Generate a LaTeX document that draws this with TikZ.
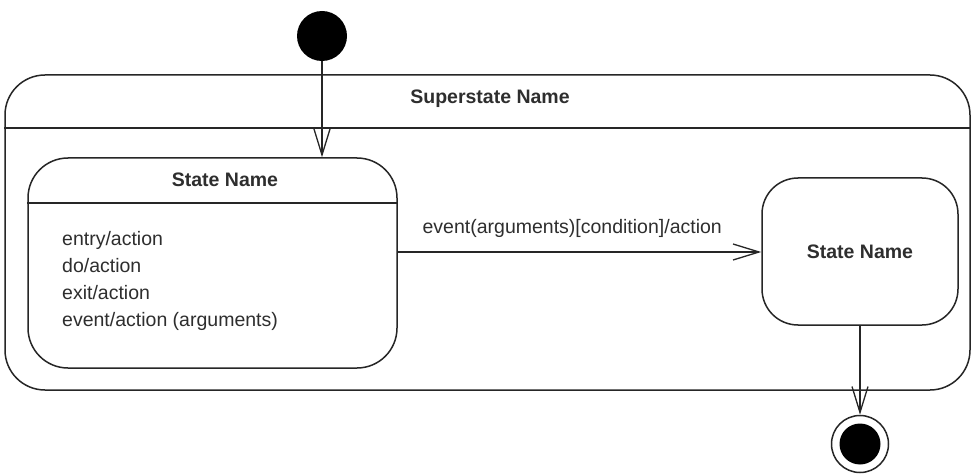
\documentclass[tikz,border=0pt]{standalone}
\usepackage{fontspec}
\setmainfont{Liberation Sans}
\usetikzlibrary{arrows.meta}
\definecolor{ink}{HTML}{262626}
\definecolor{txt}{HTML}{2E2E2E}
\begin{document}
\begin{tikzpicture}[x=1pt,y=-1pt,
  every node/.style={text=txt,font=\fontsize{19.5}{27}\selectfont},
  box/.style={draw=ink,line width=1.5pt,inner sep=0pt},
  sep/.style={draw=ink,line width=1.5pt},
  flow/.style={draw=ink,line width=1.5pt,-{Straight Barb[length=26pt,width=16pt,line width=1.3pt]}},
  title/.style={font=\fontsize{19.5}{27}\selectfont\bfseries},
  item/.style={anchor=base west,inner sep=0pt}]
\useasboundingbox (0,0) rectangle (975,476);
\fill[white] (0,0) rectangle (975,476);
% superstate
\node[box,rounded corners=40pt,minimum width=965pt,minimum height=315pt] (super) at (487.5,232.5) {};
\draw[sep] (super.west |- 0,128) -- (super.east |- 0,128);
\node[title] (supertitle) at (490,99) {Superstate Name};
% initial state
\node[circle,fill=black,inner sep=0pt,minimum size=50pt] (init) at (322,36) {};
% state 1
\node[box,rounded corners=40pt,minimum width=369pt,minimum height=210pt] (s1) at (212.5,263) {};
\draw[sep] (s1.west |- 0,203) -- (s1.east |- 0,203);
\node[title] (s1title) at (225,180) {State Name};
\node[item] (l1) at (62,245) {entry/action};
\node[item] (l2) at (62,272) {do/action};
\node[item] (l3) at (62,299) {exit/action};
\node[item] (l4) at (62,326) {event/action (arguments)};
% state 2
\node[box,rounded corners=36pt,minimum width=196pt,minimum height=147pt] (s2) at (860,251.5) {};
\node[title] (s2title) at (860,251.5) {State Name};
% final state
\node[circle,draw=ink,line width=1.5pt,inner sep=0pt,minimum size=57pt] (final) at (860,444) {};
\node[circle,fill=black,inner sep=0pt,minimum size=41pt] (finaldot) at (final.center) {};
% transitions
\draw[flow] (init.south) -- (init.south |- s1.north);
\draw[flow] (s1.east |- 0,252) -- node[pos=0.48,above=14pt,inner sep=0pt] (tlabel) {event(arguments)[condition]/action} (s2.west |- 0,252);
\draw[flow] (s2.south) -- (final.north);
\end{tikzpicture}
\end{document}
